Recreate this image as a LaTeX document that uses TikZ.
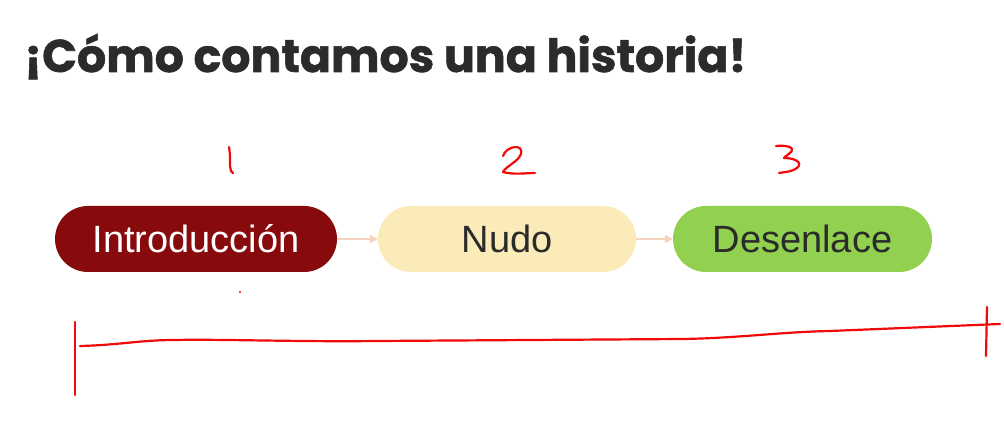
\documentclass[tikz,border=0pt]{standalone}
\usepackage{xcolor}
\usepackage{fontspec}
\setmainfont{Liberation Sans}
\newfontfamily\titlefont{Poppins}[BoldFeatures={FakeBold=1.2}]
\usetikzlibrary{math,arrows.meta}

\definecolor{vino}{HTML}{870A0C}
\definecolor{crema}{HTML}{FAEBB8}
\definecolor{verde}{HTML}{92D050}
\definecolor{melon}{HTML}{F7D3BD}
\definecolor{tinta}{HTML}{2B2B2B}
\definecolor{lapiz}{HTML}{F00A0A}

\tikzset{
	etapa/.style={minimum width=#1, minimum height=66pt, rounded corners=33pt,
		inner sep=0pt, font=\fontsize{38}{44}\selectfont, text=tinta},
	flecha/.style={draw=melon, line width=1.6pt, -{Triangle[length=8pt,width=8pt]}},
	trazo/.style={draw=lapiz, line width=2.2pt, line cap=round, line join=round}
}

\begin{document}
\begin{tikzpicture}[x=1pt,y=-1pt]
\useasboundingbox[fill=white] (0,0) rectangle (1004,435);
\tikzmath{
	\h = 239;
	\ia = 55;\ib = 337;
	\na = 378;\nb = 636;
	\da = 673;\db = 932;
	{\node[anchor=base west, text=tinta, font=\titlefont\bfseries\fontsize{45.8}{52}\selectfont, inner sep=0pt] (titulo) at (24,72) {¡Cómo contamos una historia!};};
	{\node[etapa={\ib-\ia}, fill=vino, text=white] (intro) at ({(\ia+\ib)/2},\h) {Introducción};};
	{\node[etapa={\nb-\na}, fill=crema] (nudo) at ({(\na+\nb)/2},\h) {Nudo};};
	{\node[etapa={\db-\da}, fill=verde] (desenlace) at ({(\da+\db)/2},\h) {Desenlace};};
	{\draw[flecha] (intro) -- (nudo);};
	{\draw[flecha] (nudo) -- (desenlace);};
	%
	{\draw[trazo] (229,147) .. controls (231,158) and (229,166) .. (231,171) -- (233,173);};
	{\draw[trazo] (503,156) .. controls (506,146) and (524,143) .. (521,154) .. controls (518,162) and (506,166) .. (503,172) .. controls (514,175) and (526,173) .. (535,173);};
	{\draw[trazo] (776,146) .. controls (786,145) and (795,147) .. (791,152) .. controls (789,155) and (785,156) .. (784,158) .. controls (796,158) and (803,163) .. (797,168) .. controls (792,172) and (784,172) .. (779,173);};
	{\fill[lapiz] (240,292) circle (1.2pt);};
	%
	{\draw[trazo] (75,322) -- (75,395);};
	{\draw[trazo] (80,346) .. controls (120,345) and (140,340) .. (175,340) .. controls (220,339) and (300,342) .. (377,341) -- (683,339) .. controls (740,338) and (780,332) .. (830,331) -- (1000,324);};
	{\draw[trazo] (987,307) -- (986,356);};
};
\end{tikzpicture}
\end{document}
